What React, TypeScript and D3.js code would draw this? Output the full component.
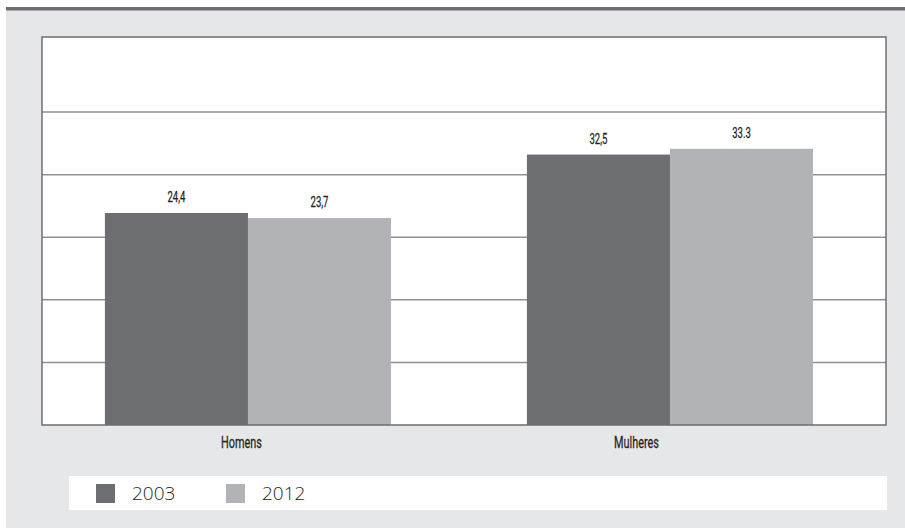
import React from "react";
import * as d3 from "d3";

const categories = ["Homens", "Mulheres"];
const seriesKeys = ["2003", "2012"];
const values2003 = [24.4, 32.5];
const values2012 = [23.7, 33.3];
const valueLabels2003 = ["24,4", "32,5"];
const valueLabels2012 = ["23,7", "33.3"];
const gridTicks = [1, 2, 3, 4, 5];

const W = 905;
const H = 528;
const plot = { left: 42, right: 886, top: 37, bottom: 425 };
const colors: Record<string, string> = { "2003": "#6d6e71", "2012": "#b1b3b6" };

const condensed = "Roboto, 'Liberation Sans', sans-serif";

function CondText(props: { x: number; y: number; size: number; children: React.ReactNode; sx?: number }) {
  const sx = props.sx ?? 0.68;
  return (
    <text
      transform={`translate(${props.x},${props.y}) scale(${sx},1)`}
      textAnchor="middle"
      fontFamily={condensed}
      fontSize={props.size}
      fontWeight={400}
      fill="#231f20"
      stroke="#231f20"
      strokeWidth={0.25}
    >
      {props.children}
    </text>
  );
}

export default function App() {
  const x0 = d3
    .scaleBand<string>()
    .domain(categories)
    .range([plot.left, plot.right])
    .paddingInner(0.322)
    .paddingOuter(0.161)
    .align(0.463);
  const x1 = d3.scaleBand<string>().domain(seriesKeys).range([0, x0.bandwidth()]);
  const labelX = d3.scaleBand<string>().domain(categories).range([44, 834]);
  const y = d3.scaleLinear().domain([-5, 48.8]).range([plot.bottom, plot.top]);
  const grid = d3.scaleLinear().domain([0, 6.2]).range([plot.bottom, plot.top]);

  const rows = categories.map((c, i) => ({
    cat: c,
    items: [
      { key: "2003", v: values2003[i], label: valueLabels2003[i] },
      { key: "2012", v: values2012[i], label: valueLabels2012[i] },
    ],
  }));

  return (
    <svg
      width={W}
      height={H}
      style={{ position: "absolute", left: 0, top: 0 }}
      viewBox={`0 0 ${W} ${H}`}
    >
      <rect x={0} y={0} width={W} height={H} fill="#ffffff" />
      <rect x={6} y={7} width={W - 6} height={H - 7} fill="#e6e7e8" />
      <rect x={6} y={7} width={W - 6} height={3} fill="#6d6e71" />
      <rect x={6} y={10} width={W - 6} height={1} fill="#a7a9ac" />

      <rect
        x={plot.left}
        y={plot.top}
        width={plot.right - plot.left}
        height={plot.bottom - plot.top}
        fill="#ffffff"
      />
      {gridTicks.map((t) => (
        <line
          key={t}
          x1={plot.left}
          x2={plot.right}
          y1={grid(t)}
          y2={grid(t)}
          stroke="#8f9194"
          strokeWidth={1.5}
        />
      ))}

      {rows.map((r) => (
        <g key={r.cat} transform={`translate(${x0(r.cat)},0)`}>
          {r.items.map((it) => (
            <g key={it.key}>
              <rect
                x={x1(it.key)}
                y={y(it.v)}
                width={x1.bandwidth()}
                height={plot.bottom - y(it.v)}
                fill={colors[it.key]}
              />
              <CondText
                x={(x1(it.key) as number) + x1.bandwidth() / 2}
                y={y(it.v) - 11}
                size={14}
              >
                {it.label}
              </CondText>
            </g>
          ))}
        </g>
      ))}

      <rect
        x={plot.left}
        y={plot.top}
        width={plot.right - plot.left}
        height={plot.bottom - plot.top}
        fill="none"
        stroke="#6d6e71"
        strokeWidth={1.5}
      />

      {categories.map((c) => (
        <CondText key={c} x={(labelX(c) as number) + labelX.bandwidth() / 2} y={447.5} size={16}>
          {c}
        </CondText>
      ))}

      <rect x={69} y={476} width={887 - 69} height={34} fill="#ffffff" />
      {seriesKeys.map((k, i) => (
        <g key={k} transform={`translate(${96 + i * 130},0)`}>
          <rect x={0} y={484} width={19} height={19} fill={colors[k]} />
          <text
            x={36}
            y={500}
            fontFamily="'Open Sans', 'Noto Sans', sans-serif"
            fontWeight={300}
            fontSize={19}
            fill="#231f20"
          >
            {k}
          </text>
        </g>
      ))}
    </svg>
  );
}
